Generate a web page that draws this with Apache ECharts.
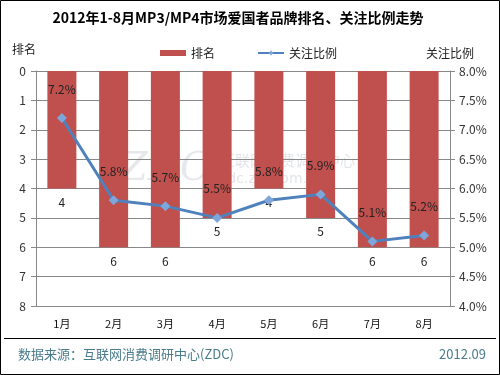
<!DOCTYPE html>
<html>
<head>
<meta charset="utf-8">
<script src="https://cdn.jsdelivr.net/npm/echarts@6/dist/echarts.min.js"></script>
<style>
  html, body { margin: 0; padding: 0; background: #fff; }
  #main { width: 500px; height: 375px; }
</style>
</head>
<body>
<div id="main"></div>
<script>
// 数据
const months = ['1月', '2月', '3月', '4月', '5月', '6月', '7月', '8月']
const rankValues = [4, 6, 6, 5, 4, 5, 6, 6]
const ratioValues = [7.2, 5.8, 5.7, 5.5, 5.8, 5.9, 5.1, 5.2]

const font = '"Noto Sans CJK SC", "DejaVu Sans", sans-serif'
const chart = echarts.init(document.getElementById('main'))

const option = {
  backgroundColor: '#fff',
  textStyle: { fontFamily: font },
  title: {
    text: '2012年1-8月MP3/MP4市场爱国者品牌排名、关注比例走势',
    left: 233,
    textAlign: 'center',
    top: 6,
    textStyle: { fontSize: 14, fontWeight: 'bold', color: '#000', fontFamily: font }
  },
  legend: {
    top: 42,
    left: 155,
    itemGap: 42,
    itemWidth: 26,
    itemHeight: 6,
    textStyle: { fontSize: 12, color: '#222' },
    data: [
      { name: '排名', icon: 'rect' },
      { name: '关注比例' }
    ]
  },
  grid: { left: 36, right: 50, top: 71, bottom: 69 },
  xAxis: {
    type: 'category',
    data: months,
    axisLine: { show: false },
    axisTick: { show: false },
    axisLabel: { fontSize: 11, color: '#111', margin: 12 }
  },
  yAxis: [
    {
      type: 'value',
      name: '排名',
      // 反向轴，start 在上方
      nameLocation: 'start',
      nameGap: 16,
      nameTextStyle: { fontSize: 12, color: '#222', align: 'right', padding: [0, 0, 0, 0] },
      inverse: true,
      min: 0,
      max: 8,
      interval: 1,
      axisLine: { show: true, lineStyle: { color: '#888' } },
      axisTick: { show: true, inside: false, length: 5, lineStyle: { color: '#888' } },
      axisLabel: { fontSize: 12, color: '#333', margin: 10 },
      splitLine: { show: true, lineStyle: { color: '#888', width: 1 } }
    },
    {
      type: 'value',
      name: '关注比例',
      nameLocation: 'end',
      nameGap: 12,
      nameTextStyle: { fontSize: 12, color: '#222', align: 'center', padding: [0, 0, 0, 0] },
      min: 4,
      max: 8,
      interval: 0.5,
      position: 'right',
      axisLine: { show: true, lineStyle: { color: '#888' } },
      axisTick: { show: true, length: 5, lineStyle: { color: '#888' } },
      axisLabel: { fontSize: 12, color: '#333', margin: 9, formatter: v => v.toFixed(1) + '%' },
      splitLine: { show: false }
    }
  ],
  series: [
    {
      name: '排名',
      type: 'bar',
      yAxisIndex: 0,
      data: rankValues,
      barWidth: 29,
      itemStyle: { color: '#C0504D' },
      label: { show: true, position: 'bottom', distance: 8, fontSize: 12, color: '#222' }
    },
    {
      name: '关注比例',
      type: 'line',
      yAxisIndex: 1,
      data: ratioValues,
      symbol: 'diamond',
      symbolSize: 10,
      lineStyle: { color: '#4F81BD', width: 3 },
      itemStyle: { color: '#7EA6DA', borderColor: '#4F81BD', borderWidth: 0 },
      label: { show: true, position: 'top', distance: 18, fontSize: 12, color: '#222', formatter: p => p.value.toFixed(1) + '%' },
      z: 5
    }
  ],
  graphic: [
    {
      type: 'rect',
      shape: { x: 0.5, y: 0.5, width: 499, height: 374 },
      style: { fill: 'none', stroke: '#000', lineWidth: 1 },
      silent: true
    },
    {
      type: 'line',
      shape: { x1: 4, y1: 338.5, x2: 496, y2: 338.5 },
      style: { stroke: '#000', lineWidth: 1 },
      silent: true
    },
    {
      type: 'text',
      left: 120,
      top: 150,
      style: { text: 'ZDC', font: 'italic 40px "DejaVu Serif", serif', fill: 'rgba(120,130,150,0.18)' },
      silent: true
    },
    {
      type: 'text',
      left: 220,
      top: 153,
      style: { text: '互联网消费调研中心', font: '15px ' + font, fill: 'rgba(120,130,150,0.22)' },
      silent: true
    },
    {
      type: 'text',
      left: 220,
      top: 172,
      style: { text: 'zdc.zol.com.cn', font: '14px "DejaVu Sans", sans-serif', fill: 'rgba(120,130,150,0.22)' },
      silent: true
    },
    {
      type: 'text',
      left: 18,
      top: 348,
      style: { text: '数据来源：互联网消费调研中心(ZDC)', font: '13px ' + font, fill: '#4A7C8C' },
      silent: true
    },
    {
      type: 'text',
      right: 14,
      top: 348,
      style: { text: '2012.09', font: '13px ' + font, fill: '#4A7C8C' },
      silent: true
    }
  ]
}

option && chart.setOption(option)
</script>
</body>
</html>
